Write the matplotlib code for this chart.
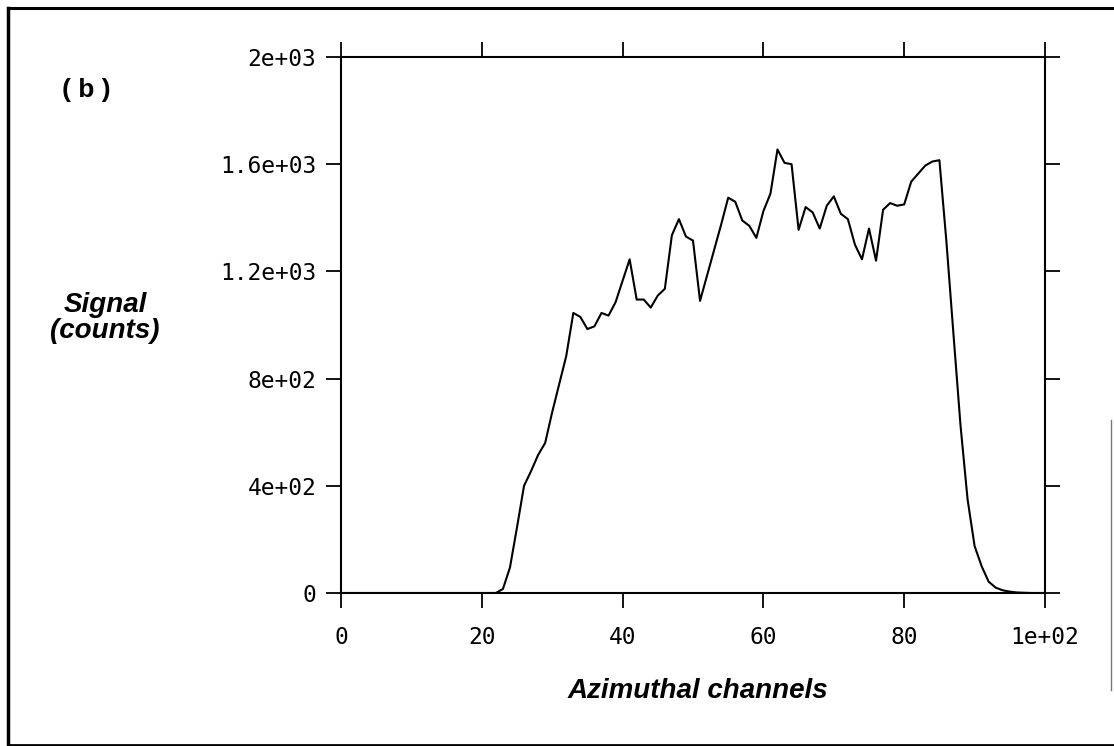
import matplotlib
matplotlib.use("Agg")
import matplotlib.pyplot as plt
from matplotlib.lines import Line2D
import numpy as np

# Data: signal (counts) per azimuthal channel 0..100
channels = list(range(0, 101))
signal = ([0] * 23 +
          [15, 95, 245, 400, 455, 515, 560, 675, 780, 885,
           1045, 1030, 985, 995, 1045, 1035, 1085, 1165, 1245, 1095,
           1095, 1065, 1110, 1135, 1335, 1395, 1330, 1315, 1090, 1185,
           1280, 1375, 1475, 1460, 1390, 1370, 1325, 1425, 1490, 1655,
           1605, 1600, 1355, 1440, 1420, 1360, 1445, 1480, 1415, 1395,
           1300, 1245, 1360, 1240, 1430, 1455, 1445, 1450, 1535, 1565,
           1595, 1610, 1615, 1310, 965, 625, 350, 175, 100, 42,
           20, 10, 5, 2, 1, 0, 0, 0])

x_ticks = [0, 20, 40, 60, 80, 100]
x_tick_labels = ["0", "20", "40", "60", "80", "1e+02"]
y_ticks = [0, 400, 800, 1200, 1600, 2000]
y_tick_labels = ["0", "4e+02", "8e+02", "1.2e+03", "1.6e+03", "2e+03"]

W, H = 1114, 746
fig = plt.figure(figsize=(W / 100, H / 100), dpi=100)

def fx(px):
    return px / W

def fy(py):
    return 1 - py / H

left, right, top, bottom = 341, 1045, 57, 593
ax = fig.add_axes([fx(left), fy(bottom), fx(right) - fx(left), fy(top) - fy(bottom)])
ax.plot(channels, signal, color="black", lw=1.5)
ax.set_xlim(0, 100)
ax.set_ylim(0, 2000)
ax.set_xticks(x_ticks)
ax.set_xticklabels(x_tick_labels)
ax.set_yticks(y_ticks)
ax.set_yticklabels(y_tick_labels)
for s in ax.spines.values():
    s.set_linewidth(1.5)
ax.tick_params(axis="both", which="major", direction="out", length=10.8, width=1.3,
               top=True, right=True, labelsize=16.5)
ax.tick_params(axis="x", pad=13)
ax.tick_params(axis="y", pad=7)
for lab in ax.get_xticklabels() + ax.get_yticklabels():
    lab.set_family("DejaVu Sans Mono")

fig.text(fx(698), fy(691), "Azimuthal channels", ha="center", va="center",
         fontsize=20, fontstyle="italic", fontweight="bold", family="Liberation Sans")
fig.text(fx(105), fy(318), "Signal\n(counts)", ha="center", va="center",
         fontsize=20, fontstyle="italic", fontweight="bold", family="Liberation Sans",
         linespacing=1.0)
fig.text(fx(86), fy(90), "( b )", ha="center", va="center",
         fontsize=19, fontweight="bold", family="Liberation Sans")

# figure border
fig.add_artist(Line2D([fx(8), fx(1114)], [fy(8), fy(8)], color="black", lw=2.2,
                      transform=fig.transFigure))
fig.add_artist(Line2D([fx(8), fx(8)], [fy(8), fy(746)], color="black", lw=2.5,
                      transform=fig.transFigure))
fig.add_artist(Line2D([fx(8), fx(1114)], [fy(744.5), fy(744.5)], color="black", lw=2.0,
                      transform=fig.transFigure))
fig.add_artist(Line2D([fx(1111), fx(1111)], [fy(420), fy(690)], color="#777777", lw=1.0,
                      transform=fig.transFigure))

fig.savefig("out.png", dpi=100)
